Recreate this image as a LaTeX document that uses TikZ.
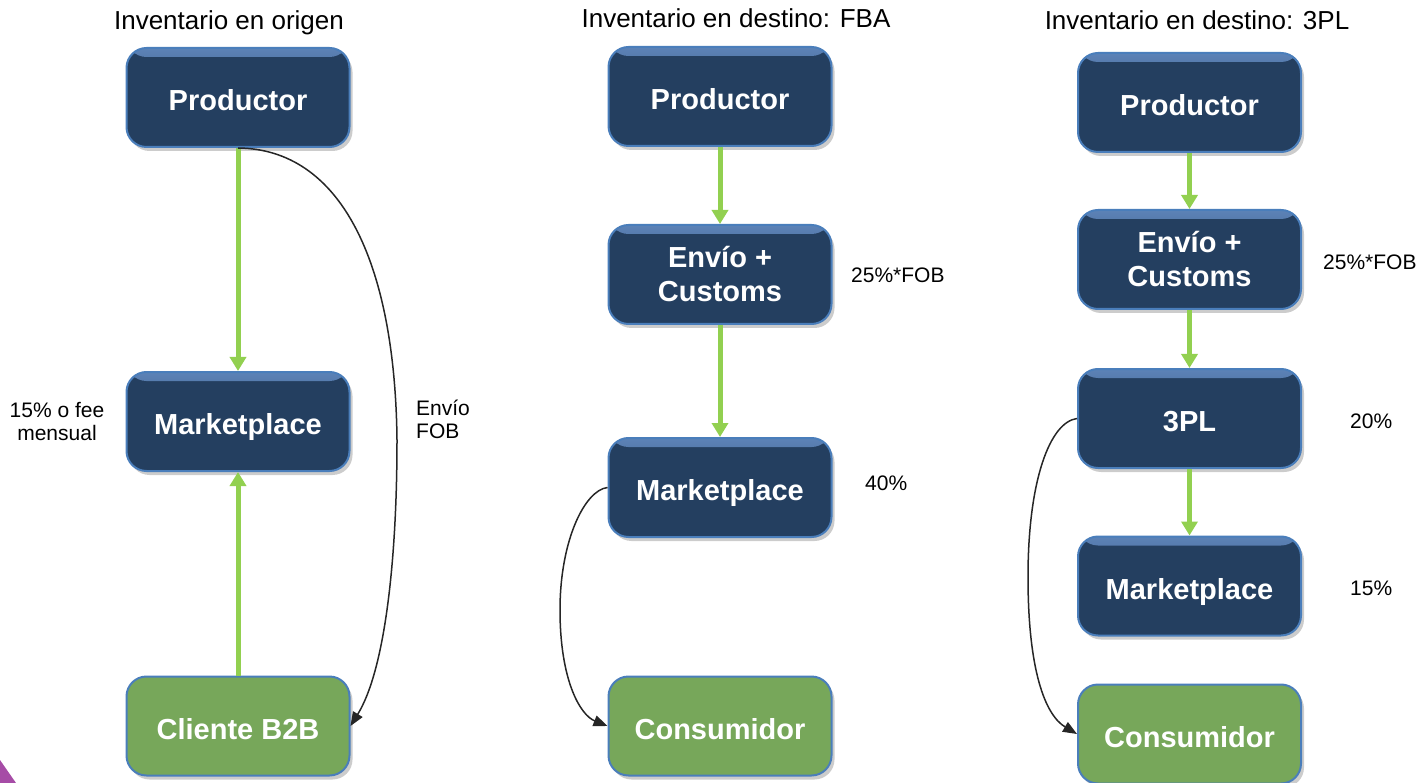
\documentclass[tikz,border=0pt]{standalone}
\usepackage{fontspec}
\setmainfont{Liberation Sans}
\usetikzlibrary{arrows.meta,shadows}
\definecolor{navy}{HTML}{243F60}
\definecolor{bordblue}{HTML}{4A7EBB}
\definecolor{hiblue}{HTML}{6A93CC}
\definecolor{boxgreen}{HTML}{77A75A}
\definecolor{arrgreen}{HTML}{92D050}
\definecolor{curvec}{HTML}{262626}
\definecolor{purp}{HTML}{A64CA6}
\tikzset{
 base box/.style={rounded corners=20pt, minimum width=223pt, minimum height=99pt, inner sep=0pt,
   draw=bordblue, line width=2pt, text=white, font=\fontsize{29}{34}\selectfont\bfseries, align=center,
   text height=26pt, text depth=0pt,
   drop shadow={shadow xshift=3pt, shadow yshift=-4pt, opacity=0.2, fill=black}},
 navybox/.style={base box, fill=navy,
   path picture={\shade[top color=hiblue!80!navy, bottom color=navy] (path picture bounding box.north west) rectangle ([yshift=-9pt]path picture bounding box.north east);}},
 greenbox/.style={base box, fill=boxgreen},
 twoline/.style={text height={}, text depth={}, yshift=-2pt},
 flow/.style={draw=arrgreen, line width=5pt, -{Triangle[width=16pt,length=14pt]}},
 curve/.style={draw=curvec, line width=1.5pt, -{Triangle[width=11pt,length=14pt]}},
 title/.style={font=\fontsize{26}{30}\selectfont, anchor=base, inner sep=0pt},
 lbl/.style={font=\fontsize{21}{23}\selectfont, anchor=base west, inner sep=0pt},
 lblc/.style={font=\fontsize{21}{23}\selectfont, anchor=base, inner sep=0pt},
}
\begin{document}
\begin{tikzpicture}[x=1pt,y=-1pt]
\useasboundingbox (0,0) rectangle (1421,783);
\fill[purp] (0,760) -- (16,783) -- (0,783) -- cycle;
% column 1
\node[navybox] (P1) at (238,97.5) {Productor};
\node[navybox] (M1) at (238,421.5) {Marketplace};
\node[greenbox] (C1) at (238,726) {Cliente B2B};
% column 2
\node[navybox] (P2) at (720,96.5) {Productor};
\node[navybox, twoline] (E2) at (720,272.5) {Envío +\\Customs};
\node[navybox] (M2) at (720,487.5) {Marketplace};
\node[greenbox] (K2) at (720,726) {Consumidor};
% column 3
\node[navybox] (P3) at (1189.5,102.5) {Productor};
\node[navybox, twoline] (E3) at (1189.5,257.5) {Envío +\\Customs};
\node[navybox] (T3) at (1189.5,418.5) {3PL};
\node[navybox] (M3) at (1189.5,586) {Marketplace};
\node[greenbox] (K3) at (1189.5,734) {Consumidor};
% green flows
\draw[flow] (P1) -- (M1);
\draw[flow] (C1) -- (M1);
\draw[flow] (P2) -- (E2);
\draw[flow] (E2) -- (M2);
\draw[flow] (P3) -- (E3);
\draw[flow] (E3) -- (T3);
\draw[flow] (T3) -- (M3);
% black curves
\draw[curve] (P1.south) .. controls (340,149) and (395,260) .. (397,440) .. controls (397,560) and (385,670) .. (C1.east);
\draw[curve] (M2.west) .. controls (585,490) and (560,540) .. (560,610) .. controls (560,680) and (580,715) .. (K2.west);
\draw[curve] (T3.west) .. controls (1050,422) and (1028,480) .. (1028,577) .. controls (1028,670) and (1045,715) .. (K3.west);
% titles
\node[title] (t1) at (229,30) {Inventario en origen};
\node[title] (t2) at (736,28) {Inventario en destino: FBA};
\node[title] (t3) at (1197,30) {Inventario en destino: 3PL};
% labels
\node[lblc] (l1a) at (57,417) {15\% o fee};
\node[lblc] (l1b) at (57,440) {mensual};
\node[lbl] (l2a) at (416,415) {Envío};
\node[lbl] (l2b) at (416,438) {FOB};
\node[lbl] (l3) at (851,283) {25\%*FOB};
\node[lbl] (l4) at (865,490.5) {40\%};
\node[lbl] (l5) at (1323,270) {25\%*FOB};
\node[lbl] (l6) at (1350,428) {20\%};
\node[lbl] (l7) at (1350,595.5) {15\%};
\end{tikzpicture}
\end{document}
